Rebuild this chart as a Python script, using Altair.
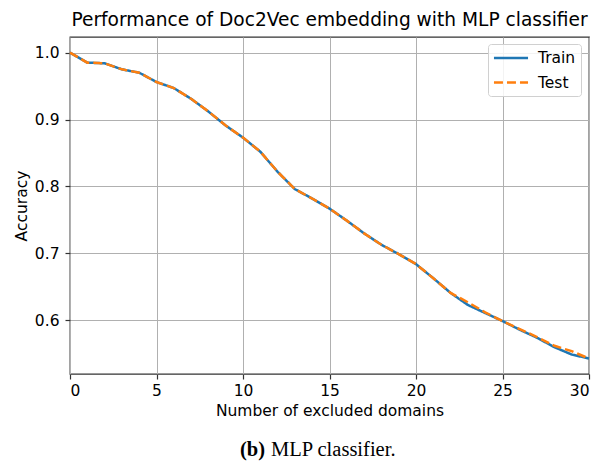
import altair as alt
import pandas as pd

domains = list(range(31))
train = [1.000, 0.985, 0.984, 0.975, 0.970, 0.956, 0.947, 0.931, 0.912, 0.891,
         0.873, 0.852, 0.822, 0.796, 0.782, 0.767, 0.749, 0.730, 0.713, 0.699,
         0.684, 0.663, 0.641, 0.623, 0.611, 0.599, 0.586, 0.574, 0.560, 0.549,
         0.543]
test = [1.000, 0.985, 0.984, 0.975, 0.970, 0.956, 0.947, 0.931, 0.912, 0.891,
        0.873, 0.852, 0.822, 0.796, 0.782, 0.767, 0.749, 0.730, 0.713, 0.699,
        0.684, 0.663, 0.641, 0.627, 0.612, 0.599, 0.587, 0.575, 0.562, 0.554,
        0.543]
series = ["Train", "Test"]
x_ticks = [0, 5, 10, 15, 20, 25, 30]
y_ticks = [0.6, 0.7, 0.8, 0.9, 1.0]
caption_bold = ["(b)"]
caption_rest = ["MLP classifier."]

rows = []
for s, vals in zip(series, [train, test]):
    for d, v in zip(domains, vals):
        rows.append({"domains": d, "acc": v, "series": s, "order": series.index(s)})
df = pd.DataFrame(rows)

W, H = 519, 337
FS = 15.5

legend = alt.Legend(title=None, orient="none", legendX=418, legendY=7,
                    symbolType="M-2.2,0H2.2", symbolSize=240,
                    symbolStrokeWidth=2.5, symbolOffset=9,
                    labelFontSize=FS,
                    labelFont="DejaVu Sans", labelColor="#000",
                    fillColor="rgba(255,255,255,0.85)", strokeColor="#d0d0d0",
                    padding=5, cornerRadius=3, rowPadding=6.5,
                    labelOffset=18)

lines = alt.Chart(df).mark_line(strokeWidth=2.5).encode(
    x=alt.X("domains:Q", scale=alt.Scale(domain=[0, 30], nice=False),
            axis=alt.Axis(values=x_ticks, title="Number of excluded domains", format="d",
                          labelPadding=4, titlePadding=5)),
    y=alt.Y("acc:Q", scale=alt.Scale(domain=[0.5199, 1.0233], nice=False, zero=False),
            axis=alt.Axis(values=y_ticks, title="Accuracy", format=".1f",
                          labelPadding=6, titlePadding=5)),
    color=alt.Color("series:N", scale=alt.Scale(domain=series, range=["#1f77b4", "#ff7f0e"]),
                    legend=legend),
    strokeDash=alt.StrokeDash("series:N", scale=alt.Scale(domain=series, range=[[1, 0], [9, 4]]),
                              legend=legend),
    detail="series:N",
    order="order:Q",
)

cap_b = alt.Chart(pd.DataFrame({"t": caption_bold})).mark_text(
    font="Liberation Serif", fontSize=20.5, fontWeight="bold", align="right",
    baseline="alphabetic", color="#000"
).encode(text="t:N", x=alt.value(195), y=alt.value(419))

cap_r = alt.Chart(pd.DataFrame({"t": caption_rest})).mark_text(
    font="Liberation Serif", fontSize=20.5, align="left",
    baseline="alphabetic", color="#000"
).encode(text="t:N", x=alt.value(201), y=alt.value(419))

chart = alt.layer(lines, cap_b, cap_r).properties(
    width=W, height=H,
    title=alt.TitleParams("Performance of Doc2Vec embedding with MLP classifier",
                          font="DejaVu Sans", fontSize=18.6, fontWeight="normal",
                          color="#000", offset=7, anchor="middle"),
    autosize=alt.AutoSizeParams(type="none"),
    padding={"left": 70, "top": 37, "right": 9, "bottom": 87},
).configure_view(stroke="#333", strokeWidth=1.3).configure_axis(
    grid=True, gridColor="#b0b0b0", gridWidth=1,
    domain=False, tickColor="#333", tickSize=5, tickWidth=1.2,
    labelFont="DejaVu Sans", labelFontSize=FS, labelColor="#000",
    titleFont="DejaVu Sans", titleFontSize=FS, titleFontWeight="normal", titleColor="#000",
)

chart.save("out.html", embed_options={"renderer": "svg", "actions": False})
